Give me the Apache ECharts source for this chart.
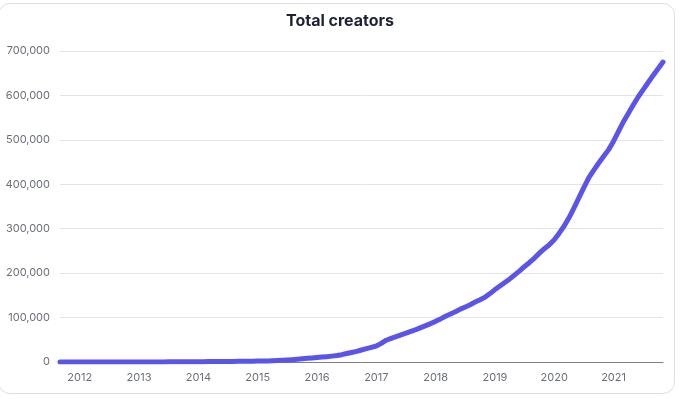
<!DOCTYPE html>
<html>
<head>
<meta charset="utf-8">
<script src="https://cdn.jsdelivr.net/npm/echarts@6/dist/echarts.min.js"></script>
<style>
  html, body { margin: 0; padding: 0; background: #fff; }
  .wrap { position: relative; width: 680px; height: 399px; overflow: hidden; }
  .card { position: absolute; left: -2px; top: 3px; width: 675px; height: 389px;
          border: 1px solid #dcdfe4; border-radius: 12px; background: #fff; }
  #chart { position: absolute; left: 0; top: 0; width: 680px; height: 399px; }
</style>
</head>
<body>
<div class="wrap">
  <div class="card"></div>
  <div id="chart"></div>
</div>
<script>
// monthly series, Sep 2011 .. Nov 2021
const startYear = 2011;
const startMonth = 9;
const yearLabels = ['2012', '2013', '2014', '2015', '2016', '2017', '2018', '2019', '2020', '2021'];
const yTicks = [0, 100000, 200000, 300000, 400000, 500000, 600000, 700000];
const creators = [
  0, 0, 0, 0, 0, 0, 0, 0, 0, 0, 0, 0, 0, 0, 0, 0, 0, 0, 0, 0,
  100, 200, 300, 400, 500, 550, 600, 700,
  750, 800, 900, 1000, 1100, 1200, 1300, 1400, 1500, 1600, 1750, 1900,
  2000, 2200, 2500, 2900, 3300, 3900, 4500, 5300, 6200, 7200, 8200, 9200,
  10000, 11000, 12000, 13200, 14600, 16500, 19000, 21500, 24000, 27000, 30000, 33000,
  36000, 42000, 49000, 53000, 57000, 61000, 65000, 69000, 73000, 77500, 82000, 86500,
  91500, 97000, 103000, 108000, 113000, 119000, 124000, 129000, 135000, 140000, 146000, 154000,
  163000, 171000, 179000, 187000, 196000, 205000, 215000, 224000, 234000, 245000, 255000, 264000,
  275000, 290000, 306000, 325000, 347000, 370000, 393000, 415000, 432000, 448000, 463000, 478000,
  497000, 519000, 541000, 560000, 579000, 597000, 613000, 629000, 645000, 660000, 675000
];

const months = creators.map((_, i) => {
  const m = startMonth - 1 + i;
  const y = startYear + Math.floor(m / 12);
  const mm = (m % 12) + 1;
  return y + '-' + (mm < 10 ? '0' + mm : mm);
});

const chart = echarts.init(document.getElementById('chart'));
chart.setOption({
  backgroundColor: 'transparent',
  animation: false,
  title: {
    text: 'Total creators',
    left: 'center',
    top: 8,
    textStyle: { fontFamily: 'Inter', fontSize: 16, fontWeight: 'bold', color: '#1b2233' }
  },
  grid: { left: 60, right: 17, top: 51, bottom: 37 },
  xAxis: {
    type: 'category',
    boundaryGap: false,
    data: months,
    axisTick: { show: false },
    axisLine: { lineStyle: { color: '#7b7f87', width: 1 } },
    axisLabel: {
      color: '#6b7079',
      fontFamily: 'Inter',
      fontSize: 11,
      margin: 10,
      interval: (idx, val) => val.endsWith('-01') && yearLabels.includes(val.slice(0, 4)),
      formatter: (val) => val.slice(0, 4)
    }
  },
  yAxis: {
    type: 'value',
    min: yTicks[0],
    max: yTicks[yTicks.length - 1],
    interval: 100000,
    axisLine: { show: false },
    axisTick: { show: false },
    splitLine: { lineStyle: { color: '#e2e4e8', width: 1 } },
    axisLabel: {
      color: '#6b7079',
      fontFamily: 'Inter',
      fontSize: 11,
      margin: 10,
      formatter: (v) => v.toLocaleString('en-US')
    }
  },
  series: [{
    type: 'line',
    data: creators,
    symbol: 'none',
    smooth: false,
    lineStyle: { width: 5, color: '#5b54e8', cap: 'round', join: 'round' }
  }]
});
</script>
</body>
</html>
